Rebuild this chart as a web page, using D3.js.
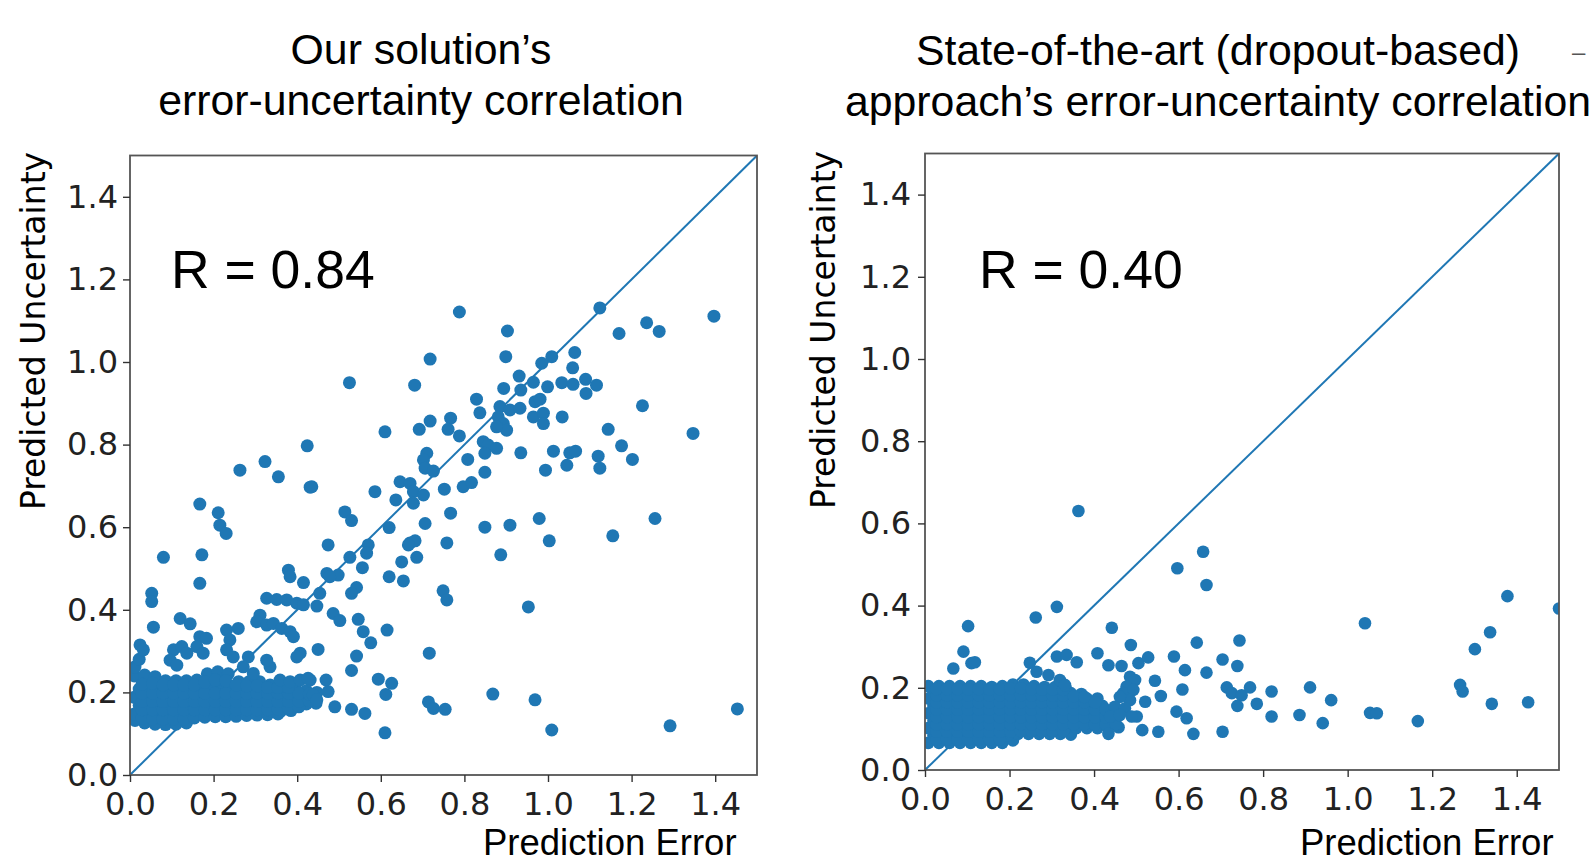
<!DOCTYPE html>
<html><head><meta charset="utf-8">
<script src="https://cdn.jsdelivr.net/npm/d3@7"></script>
<style>html,body{margin:0;padding:0;background:#fff;overflow:hidden}</style>
</head><body><svg id="c" width="1590" height="864"></svg>
<script>
// ---------- data ----------
const tickValues = [0.0, 0.2, 0.4, 0.6, 0.8, 1.0, 1.2, 1.4];
const axisDomain = [0, 1.5];
const leftTitle = ["Our solution’s", "error-uncertainty correlation"];
const rightTitle = ["State-of-the-art (dropout-based)", "approach’s error-uncertainty correlation"];
const leftR = "R = 0.84";
const rightR = "R = 0.40";
const xLabel = "Prediction Error";
const yLabel = "Predicted Uncertainty";

// [prediction error, predicted uncertainty]
const ourOutliers = [
[0.788,1.121],[1.124,1.131],[1.397,1.111],[1.236,1.095],[1.266,1.074],[1.170,1.069],[0.903,1.075],[0.718,1.007],[0.899,1.013],[1.064,1.023],
[1.009,1.013],[0.985,0.997],[1.059,0.986],[0.681,0.944],[0.931,0.966],[0.965,0.951],[0.894,0.936],[0.935,0.932],[0.999,0.940],[1.033,0.950],
[1.060,0.946],[1.090,0.958],[1.116,0.944],[1.091,0.924],[0.829,0.910],[0.837,0.877],[0.885,0.892],[0.881,0.867],[0.909,0.884],[0.933,0.888],
[0.969,0.904],[0.981,0.910],[0.965,0.867],[0.989,0.876],[0.989,0.851],[0.893,0.851],[0.901,0.835],[0.877,0.843],[1.034,0.867],[1.226,0.894],
[1.144,0.837],[1.347,0.827],[0.718,0.857],[0.767,0.864],[0.692,0.837],[0.761,0.837],[0.788,0.821],[0.845,0.807],[0.857,0.799],[0.877,0.791],
[0.849,0.779],[0.935,0.780],[1.013,0.784],[1.052,0.780],[1.066,0.784],[1.045,0.750],[0.994,0.738],[1.120,0.772],[1.124,0.743],[1.176,0.797],
[1.202,0.764],[0.808,0.764],[0.710,0.779],[0.702,0.763],[0.706,0.743],[0.726,0.736],[0.849,0.733],[0.646,0.710],[0.670,0.706],[0.678,0.686],
[0.702,0.678],[0.678,0.658],[0.752,0.692],[0.797,0.698],[0.817,0.708],[0.767,0.634],[0.979,0.621],[1.256,0.621],
[0.706,0.609],[0.849,0.600],[0.909,0.605],[1.003,0.567],[1.155,0.579],[0.670,0.562],[0.682,0.567],[0.650,0.516],[0.686,0.527],[0.758,0.562],
[0.887,0.533],[0.654,0.470],[0.749,0.446],[0.758,0.424],[0.953,0.407],[0.716,0.295],[0.714,0.177],[0.726,0.161],[0.754,0.159],[0.868,0.196],
[0.969,0.182],[1.009,0.109],[1.292,0.119],[1.453,0.160],
[0.586,0.686],[0.636,0.666],[0.435,0.698],[0.514,0.637],[0.530,0.616],[0.620,0.599],[0.474,0.557],[0.570,0.557],[0.566,0.537],[0.526,0.527],
[0.666,0.557],[0.556,0.502],[0.471,0.488],[0.498,0.484],[0.478,0.480],[0.620,0.480],[0.542,0.454],[0.530,0.440],[0.454,0.440],[0.447,0.409],
[0.486,0.391],[0.502,0.374],[0.546,0.377],[0.558,0.347],[0.576,0.320],[0.615,0.351],[0.450,0.304],[0.542,0.288],[0.530,0.253],[0.431,0.230],
[0.469,0.230],[0.474,0.202],[0.594,0.232],[0.626,0.222],[0.612,0.195],[0.438,0.194],[0.447,0.182],[0.490,0.165],[0.530,0.159],[0.562,0.149],
[0.610,0.102],
[0.525,0.950],[0.610,0.831],[0.424,0.797],[0.323,0.759],[0.263,0.738],[0.355,0.722],[0.431,0.697],[0.167,0.656],[0.211,0.635],[0.215,0.605],
[0.230,0.585],
[0.080,0.527],[0.172,0.533],[0.167,0.464],[0.379,0.496],[0.383,0.480],[0.415,0.466],[0.052,0.440],[0.052,0.420],[0.120,0.379],[0.144,0.366],
[0.056,0.358],[0.327,0.428],[0.351,0.425],[0.375,0.424],[0.399,0.416],[0.415,0.412],[0.311,0.387],[0.303,0.371],[0.327,0.363],[0.343,0.367],
[0.363,0.355],[0.383,0.347],[0.391,0.335],[0.407,0.295],[0.399,0.286],[0.024,0.315],[0.032,0.303],[0.104,0.303],[0.124,0.311],[0.136,0.295],
[0.167,0.335],[0.183,0.331],[0.160,0.311],[0.175,0.295],[0.231,0.351],[0.259,0.355],[0.239,0.327],[0.231,0.303],[0.247,0.286],[0.283,0.286],
[0.271,0.262],[0.295,0.246],[0.096,0.278],[0.112,0.266],[0.335,0.262],[0.327,0.278],[0.359,0.230],[0.383,0.226],[0.407,0.230],[0.426,0.234]
];

const ourCluster = [
[0.012,0.132],[0.035,0.126],[0.060,0.123],[0.085,0.122],[0.110,0.123],[0.135,0.126],
[0.010,0.148],[0.035,0.148],[0.060,0.148],[0.085,0.148],[0.110,0.148],[0.135,0.148],[0.160,0.150],[0.185,0.150],[0.210,0.150],[0.235,0.150],
[0.260,0.152],[0.285,0.152],[0.310,0.152],[0.335,0.153],[0.360,0.154],[0.385,0.156],
[0.022,0.168],[0.047,0.168],[0.072,0.168],[0.097,0.168],[0.122,0.168],[0.147,0.168],[0.172,0.168],[0.197,0.168],[0.222,0.168],[0.247,0.168],
[0.272,0.168],[0.297,0.168],[0.322,0.168],[0.347,0.168],[0.372,0.168],[0.397,0.170],[0.422,0.172],[0.445,0.174],
[0.010,0.188],[0.035,0.188],[0.060,0.188],[0.085,0.188],[0.110,0.188],[0.135,0.188],[0.160,0.188],[0.185,0.188],[0.210,0.188],[0.235,0.188],
[0.260,0.188],[0.285,0.188],[0.310,0.188],[0.335,0.188],[0.360,0.188],[0.385,0.188],[0.410,0.188],[0.435,0.188],
[0.022,0.208],[0.047,0.208],[0.072,0.208],[0.097,0.208],[0.122,0.208],[0.147,0.208],[0.172,0.208],[0.197,0.208],[0.222,0.208],[0.247,0.208],
[0.272,0.208],[0.297,0.208],[0.322,0.208],[0.347,0.208],[0.372,0.206],[0.397,0.206],[0.422,0.204],[0.447,0.200],
[0.010,0.240],[0.035,0.242],[0.060,0.238],[0.085,0.228],[0.110,0.228],[0.135,0.228],[0.160,0.230],[0.185,0.245],[0.210,0.250],[0.235,0.245],
[0.260,0.226],[0.285,0.226],[0.310,0.226],[0.335,0.218],[0.360,0.218],
[0.012,0.262],[0.022,0.280],
[0.029,0.138],[0.054,0.136],[0.079,0.135],[0.104,0.135],[0.129,0.136],[0.154,0.138],[0.179,0.140],[0.204,0.141],[0.229,0.141],[0.254,0.142],
[0.279,0.144],[0.304,0.145],[0.329,0.146],[0.354,0.148],
[0.029,0.158],[0.054,0.158],[0.079,0.158],[0.104,0.158],[0.129,0.158],[0.154,0.158],[0.179,0.158],[0.204,0.158],[0.229,0.158],[0.254,0.158],
[0.279,0.158],[0.304,0.158],[0.329,0.158],[0.354,0.160],[0.379,0.162],[0.404,0.165],
[0.029,0.178],[0.054,0.178],[0.079,0.178],[0.104,0.178],[0.129,0.178],[0.154,0.178],[0.179,0.178],[0.204,0.178],[0.229,0.178],[0.254,0.178],
[0.279,0.178],[0.304,0.178],[0.329,0.178],[0.354,0.178],[0.379,0.178],[0.404,0.178],[0.429,0.180],
[0.029,0.198],[0.054,0.198],[0.079,0.198],[0.104,0.198],[0.129,0.198],[0.154,0.198],[0.179,0.198],[0.204,0.198],[0.229,0.198],[0.254,0.198],
[0.279,0.198],[0.304,0.198],[0.329,0.198],[0.354,0.198],[0.379,0.198],[0.404,0.198],[0.429,0.196],
[0.029,0.220],[0.054,0.222],[0.079,0.218],[0.104,0.218],[0.129,0.218],[0.154,0.218],[0.179,0.225],[0.204,0.230],[0.229,0.228],[0.254,0.218],
[0.279,0.216],[0.304,0.216],[0.329,0.212],[0.354,0.212],[0.379,0.212]
];

const dropoutOutliers = [
[0.363,0.630],[0.597,0.491],[0.658,0.531],[0.666,0.450],[0.312,0.397],[0.262,0.371],[0.102,0.350],[0.442,0.346],[0.487,0.304],[0.643,0.310],
[0.408,0.284],[0.312,0.276],[0.335,0.280],[0.359,0.262],[0.434,0.255],[0.465,0.253],[0.505,0.260],[0.528,0.274],[0.589,0.276],[0.615,0.243],
[0.666,0.237],[0.544,0.217],[0.558,0.180],[0.609,0.196],[0.595,0.142],[0.619,0.126],[0.635,0.088],[0.514,0.097],[0.552,0.093],[0.434,0.088],
[0.521,0.166],[0.501,0.130],[0.091,0.288],[0.110,0.260],[0.067,0.247],[0.248,0.261],[0.264,0.239],[0.292,0.231],[0.319,0.219],[0.331,0.207],
[1.041,0.357],[1.378,0.423],[1.500,0.393],[1.337,0.335],[1.301,0.294],[0.744,0.315],[0.704,0.269],[0.739,0.253],[0.714,0.201],[0.726,0.187],
[0.749,0.182],[0.769,0.201],[0.739,0.156],[0.785,0.161],[0.820,0.191],[0.820,0.130],[0.911,0.201],[0.961,0.170],[0.886,0.134],[0.941,0.114],
[0.704,0.093],[1.053,0.139],[1.069,0.138],[1.166,0.119],[1.266,0.207],[1.272,0.191],[1.341,0.161],[1.427,0.165],
[0.485,0.227],[0.497,0.219],[0.477,0.203],[0.469,0.187],[0.493,0.195],[0.485,0.170],[0.461,0.178],[0.449,0.154],[0.473,0.150],[0.489,0.130],
[0.438,0.130],[0.461,0.134],[0.118,0.262]
];

const dropoutCluster = [
[0.008,0.066],[0.033,0.066],[0.058,0.066],[0.083,0.066],[0.108,0.066],[0.133,0.066],[0.158,0.066],[0.183,0.066],[0.208,0.072],
[0.020,0.084],[0.045,0.084],[0.070,0.084],[0.095,0.084],[0.120,0.084],[0.145,0.084],[0.170,0.084],[0.195,0.084],[0.220,0.088],[0.245,0.088],
[0.270,0.088],[0.295,0.088],[0.320,0.088],[0.345,0.086],
[0.008,0.102],[0.033,0.102],[0.058,0.102],[0.083,0.102],[0.108,0.102],[0.133,0.102],[0.158,0.102],[0.183,0.102],[0.208,0.102],[0.233,0.102],
[0.258,0.102],[0.283,0.102],[0.308,0.102],[0.333,0.102],[0.358,0.102],[0.383,0.102],[0.408,0.102],[0.433,0.102],[0.458,0.104],
[0.020,0.120],[0.045,0.120],[0.070,0.120],[0.095,0.120],[0.120,0.120],[0.145,0.120],[0.170,0.120],[0.195,0.120],[0.220,0.120],[0.245,0.120],
[0.270,0.120],[0.295,0.120],[0.320,0.120],[0.345,0.120],[0.370,0.120],[0.395,0.120],[0.420,0.120],[0.445,0.120],
[0.008,0.138],[0.033,0.138],[0.058,0.138],[0.083,0.138],[0.108,0.138],[0.133,0.138],[0.158,0.138],[0.183,0.138],[0.208,0.138],[0.233,0.138],
[0.258,0.138],[0.283,0.138],[0.308,0.138],[0.333,0.138],[0.358,0.138],[0.383,0.138],[0.408,0.138],[0.433,0.138],
[0.020,0.156],[0.045,0.156],[0.070,0.156],[0.095,0.156],[0.120,0.156],[0.145,0.156],[0.170,0.156],[0.195,0.156],[0.220,0.156],[0.245,0.156],
[0.270,0.156],[0.295,0.156],[0.320,0.156],[0.345,0.156],[0.370,0.156],[0.395,0.156],[0.420,0.156],
[0.008,0.174],[0.033,0.174],[0.058,0.174],[0.083,0.174],[0.108,0.174],[0.133,0.174],[0.158,0.174],[0.183,0.174],[0.208,0.174],[0.233,0.174],
[0.258,0.174],[0.283,0.174],[0.308,0.174],[0.333,0.174],[0.358,0.174],[0.383,0.174],[0.408,0.174],
[0.020,0.190],[0.045,0.190],[0.070,0.190],[0.095,0.190],[0.120,0.190],[0.145,0.190],[0.170,0.190],[0.195,0.190],[0.220,0.190],[0.245,0.190],
[0.270,0.190],[0.295,0.190],[0.320,0.190],[0.345,0.187],[0.370,0.185],
[0.008,0.204],[0.033,0.204],[0.058,0.204],[0.083,0.204],[0.108,0.204],[0.133,0.204],[0.158,0.202],[0.183,0.204],[0.208,0.208],[0.233,0.208],
[0.258,0.204],[0.283,0.202],[0.308,0.202],[0.333,0.200],
[0.027,0.075],[0.052,0.075],[0.077,0.075],[0.102,0.075],[0.127,0.075],[0.152,0.075],[0.177,0.075],
[0.027,0.093],[0.052,0.093],[0.077,0.093],[0.102,0.093],[0.127,0.093],[0.152,0.093],[0.177,0.093],[0.202,0.093],[0.227,0.095],[0.252,0.095],
[0.277,0.095],[0.302,0.095],[0.327,0.095],
[0.027,0.111],[0.052,0.111],[0.077,0.111],[0.102,0.111],[0.127,0.111],[0.152,0.111],[0.177,0.111],[0.202,0.111],[0.227,0.111],[0.252,0.111],
[0.277,0.111],[0.302,0.111],[0.327,0.111],[0.352,0.111],[0.377,0.111],[0.402,0.111],[0.427,0.111],[0.452,0.111],
[0.027,0.129],[0.052,0.129],[0.077,0.129],[0.102,0.129],[0.127,0.129],[0.152,0.129],[0.177,0.129],[0.202,0.129],[0.227,0.129],[0.252,0.129],
[0.277,0.129],[0.302,0.129],[0.327,0.129],[0.352,0.129],[0.377,0.129],[0.402,0.129],[0.427,0.129],
[0.027,0.147],[0.052,0.147],[0.077,0.147],[0.102,0.147],[0.127,0.147],[0.152,0.147],[0.177,0.147],[0.202,0.147],[0.227,0.147],[0.252,0.147],
[0.277,0.147],[0.302,0.147],[0.327,0.147],[0.352,0.147],[0.377,0.147],[0.402,0.147],[0.427,0.147],
[0.027,0.165],[0.052,0.165],[0.077,0.165],[0.102,0.165],[0.127,0.165],[0.152,0.165],[0.177,0.165],[0.202,0.165],[0.227,0.165],[0.252,0.165],
[0.277,0.165],[0.302,0.165],[0.327,0.165],[0.352,0.165],[0.377,0.165],[0.402,0.165],
[0.027,0.182],[0.052,0.182],[0.077,0.182],[0.102,0.182],[0.127,0.182],[0.152,0.182],[0.177,0.182],[0.202,0.182],[0.227,0.182],[0.252,0.182],
[0.277,0.182],[0.302,0.182],[0.327,0.182],[0.352,0.180],[0.377,0.178],
[0.027,0.197],[0.052,0.197],[0.077,0.197],[0.102,0.197],[0.127,0.197],[0.152,0.196],[0.177,0.197],[0.202,0.199],[0.227,0.199],[0.252,0.197],
[0.277,0.196],[0.302,0.196],[0.327,0.195]
];

// ---------- drawing ----------
const svg = d3.select("#c");
svg.append("rect").attr("width",1590).attr("height",864).attr("fill","#fff");
const blue = "#1f77b4";
const fmt = d3.format(".1f");
const sansHelv = "'Liberation Sans', Arial, Helvetica, sans-serif";

function panel(cfg, id) {
  const x = d3.scaleLinear().domain(axisDomain).range([cfg.left, cfg.right]);
  const y = d3.scaleLinear().domain(axisDomain).range([cfg.bottom, cfg.top]);
  const g = svg.append("g");

  svg.append("clipPath").attr("id", "clip" + id)
    .append("rect").attr("x", cfg.left).attr("y", cfg.top)
    .attr("width", cfg.right - cfg.left).attr("height", cfg.bottom - cfg.top);

  const plot = g.append("g").attr("clip-path", `url(#clip${id})`);
  plot.append("path")
    .datum(axisDomain.map(v => [v, v]))
    .attr("d", d3.line().x(d => x(d[0])).y(d => y(d[1])))
    .attr("stroke", blue).attr("stroke-width", 2).attr("fill", "none");

  plot.selectAll("circle.p").data(cfg.points).join("circle")
    .attr("class","p")
    .attr("cx", d => x(d[0])).attr("cy", d => y(d[1]))
    .attr("r", cfg.r).attr("fill", blue);

  g.append("rect").attr("x", cfg.left).attr("y", cfg.top)
    .attr("width", cfg.right - cfg.left).attr("height", cfg.bottom - cfg.top)
    .attr("fill", "none").attr("stroke", "#555").attr("stroke-width", 1.8);

  const xa = g.append("g").attr("transform", `translate(0,${cfg.bottom})`)
    .call(d3.axisBottom(x).tickValues(tickValues).tickFormat(fmt).tickSize(7).tickPadding(10));
  const ya = g.append("g").attr("transform", `translate(${cfg.left},0)`)
    .call(d3.axisLeft(y).tickValues(tickValues).tickFormat(fmt).tickSize(7).tickPadding(cfg.yPad));
  [xa, ya].forEach(a => {
    a.select(".domain").remove();
    a.attr("font-family", "'DejaVu Sans', sans-serif").attr("font-size", 32);
    a.selectAll("line").attr("stroke", "#333").attr("stroke-width", 1.4);
    a.selectAll("text").attr("fill", "#222");
  });

  cfg.title.forEach((t, i) => {
    g.append("text").attr("x", cfg.titleX).attr("y", cfg.titleY[i])
      .attr("text-anchor", "middle")
      .attr("font-family", sansHelv)
      .attr("font-size", 42.8).attr("fill", "#000").text(t);
  });
  g.append("text").attr("x", cfg.rX).attr("y", 288)
    .attr("font-family", sansHelv)
    .attr("font-size", 53.5).attr("fill", "#000").text(cfg.rText);
  g.append("text")
    .attr("transform", `translate(${cfg.yLabX},${cfg.yLabY}) rotate(-90)`)
    .attr("text-anchor", "middle")
    .attr("font-family", "'DejaVu Sans', sans-serif")
    .attr("font-size", 33).attr("fill", "#000").text(yLabel);
  g.append("text").attr("x", cfg.xLabX).attr("y", cfg.xLabY)
    .attr("font-family", sansHelv)
    .attr("font-size", 36.5).attr("fill", "#000").text(xLabel);
}

panel({
  left: 130, right: 757, top: 155.5, bottom: 775, r: 6.5, yPad: 5,
  points: ourCluster.concat(ourOutliers),
  title: leftTitle, titleX: 421, titleY: [64, 115],
  rText: leftR, rX: 171,
  yLabX: 45, yLabY: 331,
  xLabX: 483, xLabY: 855
}, 1);

panel({
  left: 925, right: 1559, top: 153.5, bottom: 770, r: 6.3, yPad: 7,
  points: dropoutCluster.concat(dropoutOutliers),
  title: rightTitle, titleX: 1218, titleY: [65, 116],
  rText: rightR, rX: 979,
  yLabX: 835, yLabY: 330,
  xLabX: 1300, xLabY: 855
}, 2);

svg.append("text").attr("x", 1572).attr("y", 60)
  .attr("font-family", sansHelv)
  .attr("font-size", 24).attr("fill", "#555").text("–");
</script>
</body></html>
